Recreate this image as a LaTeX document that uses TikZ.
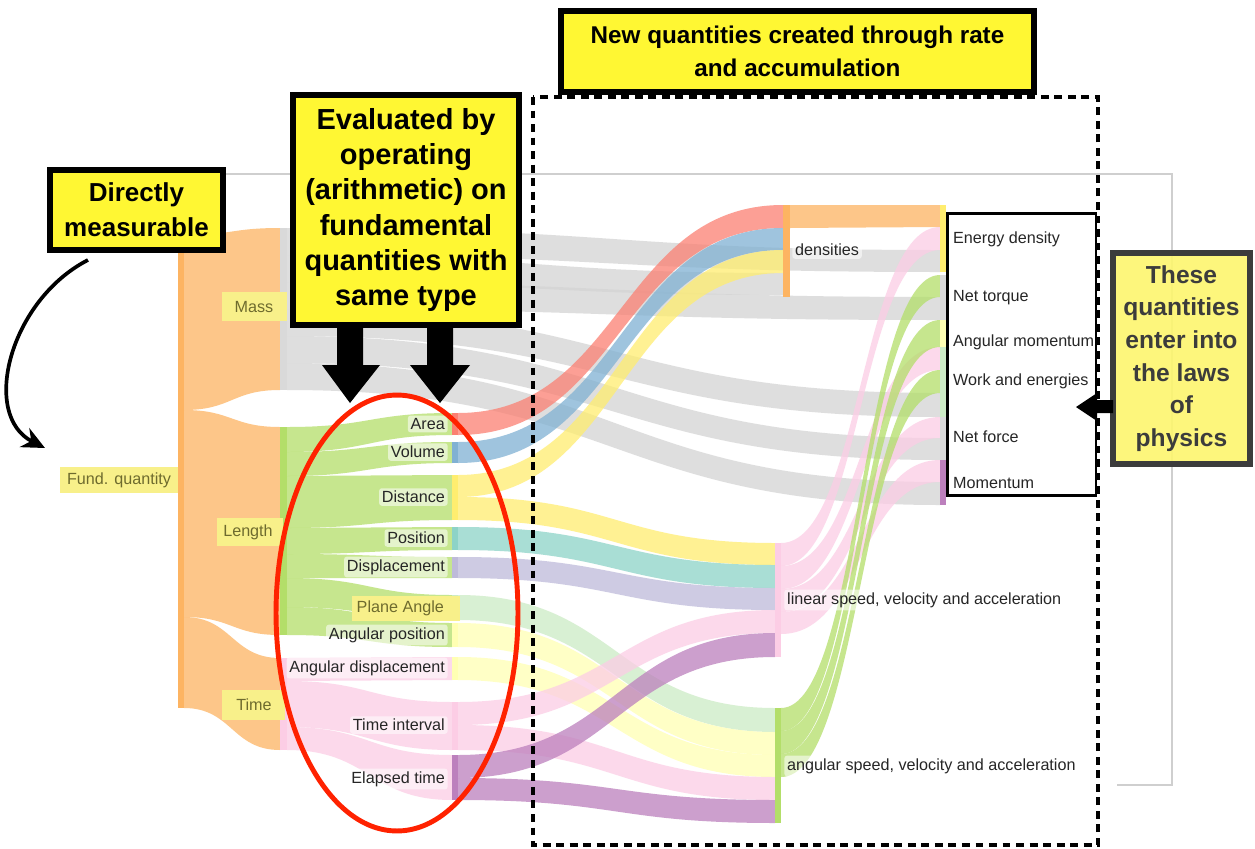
\documentclass[tikz,border=0pt]{standalone}
\usepackage{fontspec}
\setmainfont{Liberation Sans}
\usetikzlibrary{arrows.meta}
\definecolor{cOr}{HTML}{FDB462}
\definecolor{cGr}{HTML}{D4D4D4}
\definecolor{cGrBar}{HTML}{D9D9D9}
\definecolor{cLen}{HTML}{B3DE69}
\definecolor{cPink}{HTML}{FCCDE5}
\definecolor{cRed}{HTML}{FB8072}
\definecolor{cBlu}{HTML}{80B1D3}
\definecolor{cYel}{HTML}{FFED6F}
\definecolor{cTea}{HTML}{8DD3C7}
\definecolor{cLav}{HTML}{BEBADA}
\definecolor{cLgr}{HTML}{CCEBC5}
\definecolor{cLye}{HTML}{FFFFB3}
\definecolor{cPur}{HTML}{BC80BD}
\definecolor{boxY}{HTML}{FFF733}
\definecolor{boxYb}{HTML}{FDF66E}
\definecolor{hiY}{HTML}{F8F08A}
\definecolor{oliveT}{HTML}{6E6B2E}
\definecolor{dgrey}{HTML}{3C3C3C}
\definecolor{frameG}{HTML}{CFCFCF}
\definecolor{ellR}{HTML}{FF2200}
\newcommand{\sankeyrib}[7]{%
  \fill[#1,fill opacity=0.75] (#2,#3) .. controls ({(#2+#5)/2},#3) and ({(#2+#5)/2},#6) .. (#5,#6)
    -- (#5,#7) .. controls ({(#2+#5)/2},#7) and ({(#2+#5)/2},#4) .. (#2,#4) -- cycle;}
\tikzset{
  lab/.style={font=\fontsize{9.2}{10}\selectfont, text=black!85, fill=white, fill opacity=0.55,
    text opacity=1, rounded corners=1.5pt, inner sep=1.6pt},
  llab/.style={lab, anchor=east},
  rlab/.style={lab, anchor=west},
  hitext/.style={font=\fontsize{9.2}{10}\selectfont, text=oliveT, inner sep=1pt},
  ann/.style={draw=black, line width=3.2pt, fill=boxY, align=center, inner sep=0pt,
    font=\bfseries\fontsize{16.5}{20}\selectfont},
  blockarrow/.style={fill=black}
}
\begin{document}
\begin{tikzpicture}[x=0.02cm,y=-0.02cm]
\useasboundingbox (0,0) rectangle (1255,849);
\fill[white] (0,0) rectangle (1255,849);

% light grey frame
\draw[frameG, line width=0.9pt] (225,174) -- (1172,174) -- (1172,785) -- (1117,785);

% ---------- ribbons ----------
\sankeyrib{cOr}{184}{235}{410}{280}{228}{390}
\sankeyrib{cOr}{184}{410}{617}{280}{427}{635}
\sankeyrib{cOr}{184}{617}{708}{280}{658}{750}
\sankeyrib{cGr}{287}{228}{255}{940}{250}{272}
\sankeyrib{cGr}{287}{255}{282}{783}{273}{295}
\sankeyrib{cGr}{287}{282}{309}{940}{297}{320}
\sankeyrib{cGr}{287}{309}{336}{940}{393}{417}
\sankeyrib{cGr}{287}{336}{363}{940}{438}{460}
\sankeyrib{cGr}{287}{363}{390}{940}{482}{505}
\sankeyrib{cLen}{287}{427}{452}{452}{413}{435}
\sankeyrib{cLen}{287}{452}{476}{452}{442}{463}
\sankeyrib{cLen}{287}{476}{528}{452}{475}{520}
\sankeyrib{cLen}{287}{528}{554}{452}{527}{550}
\sankeyrib{cLen}{287}{554}{578}{452}{557}{578}
\sankeyrib{cLen}{287}{578}{607}{452}{595}{620}
\sankeyrib{cLen}{287}{607}{635}{452}{623}{647}
\sankeyrib{cPink}{287}{658}{681}{452}{657}{680}
\sankeyrib{cPink}{287}{681}{727}{452}{702}{750}
\sankeyrib{cPink}{287}{727}{750}{452}{755}{800}
\sankeyrib{cRed}{458}{413}{435}{783}{205}{228}
\sankeyrib{cBlu}{458}{442}{463}{783}{228}{250}
\sankeyrib{cYel}{458}{475}{497}{783}{250}{273}
\sankeyrib{cYel}{458}{497}{520}{775}{543}{565}
\sankeyrib{cTea}{458}{527}{550}{775}{565}{588}
\sankeyrib{cLav}{458}{557}{578}{775}{588}{610}
\sankeyrib{cLgr}{458}{595}{620}{775}{708}{732}
\sankeyrib{cLye}{458}{623}{647}{775}{732}{755}
\sankeyrib{cLye}{458}{657}{680}{775}{755}{777}
\sankeyrib{cPink}{458}{702}{725}{775}{610}{633}
\sankeyrib{cPink}{458}{725}{750}{775}{777}{800}
\sankeyrib{cPur}{458}{755}{778}{775}{633}{657}
\sankeyrib{cPur}{458}{778}{800}{775}{800}{823}
\sankeyrib{cOr}{790}{205}{228}{940}{205}{227}
\sankeyrib{cPink}{781}{543}{566}{940}{227}{250}
\sankeyrib{cPink}{781}{566}{589}{940}{347}{370}
\sankeyrib{cPink}{781}{589}{612}{940}{417}{438}
\sankeyrib{cPink}{781}{612}{634}{940}{460}{482}
\sankeyrib{cLen}{781}{708}{731}{940}{275}{297}
\sankeyrib{cLen}{781}{731}{754}{940}{320}{347}
\sankeyrib{cLen}{781}{754}{777}{940}{370}{393}

% ---------- node bars ----------
\fill[cOr] (178,235) rectangle (184,708);
\fill[cGrBar] (280,228) rectangle (287,390);
\fill[cLen] (280,427) rectangle (287,635);
\fill[cPink] (280,658) rectangle (287,750);
\fill[cRed] (452,413) rectangle (458,435);
\fill[cBlu] (452,442) rectangle (458,463);
\fill[cYel] (452,475) rectangle (458,520);
\fill[cTea] (452,527) rectangle (458,550);
\fill[cLav] (452,557) rectangle (458,578);
\fill[cLgr] (452,595) rectangle (458,620);
\fill[cLye] (452,623) rectangle (458,647);
\fill[cLye] (452,657) rectangle (458,680);
\fill[cPink] (452,702) rectangle (458,750);
\fill[cPur] (452,755) rectangle (458,800);
\fill[cOr] (783,205) rectangle (790,297);
\fill[cPink] (775,543) rectangle (781,657);
\fill[cLen] (775,708) rectangle (781,823);
\fill[cYel] (940,205) rectangle (946,272);
\fill[cGrBar] (940,275) rectangle (946,320);
\fill[cLye] (940,320) rectangle (946,347);
\fill[cLgr] (940,347) rectangle (946,417);
\fill[cGrBar] (940,417) rectangle (946,460);
\fill[cPur] (940,460) rectangle (946,505);

% ---------- labels ----------
\fill[hiY] (60,467) rectangle (178,493);
\node[hitext] (fq) at (119,480) {Fund. quantity};
\fill[hiY] (222,292) rectangle (287,321);
\node[hitext] (mass) at (254,307) {Mass};
\fill[hiY] (217,518) rectangle (283,546);
\node[hitext] (length) at (248,532) {Length};
\fill[hiY] (222,690) rectangle (285,720);
\node[hitext] (time) at (254,705) {Time};

\node[llab] (area) at (448,424) {Area};
\node[llab] (volume) at (448,452) {Volume};
\node[llab] (distance) at (448,497) {Distance};
\node[llab] (position) at (448,538) {Position};
\node[llab] (displ) at (448,567) {Displacement};
\fill[hiY] (352,596) rectangle (460,621);
\node[hitext, anchor=east] (plane) at (446,608) {Plane Angle};
\node[llab] (angpos) at (448,635) {Angular position};
\node[llab] (angdisp) at (448,668) {Angular displacement};
\node[llab] (tint) at (448,725) {Time interval};
\node[llab] (elapsed) at (448,779) {Elapsed time};

\node[rlab] (dens) at (792,250) {densities};
\node[rlab] (linear) at (784,600) {linear speed, velocity and acceleration};
\node[rlab] (angular) at (784,766) {angular speed, velocity and acceleration};

\node[rlab, fill opacity=0] (ed) at (950,239) {Energy density};
\node[rlab, fill opacity=0] (nt) at (950,298) {Net torque};
\node[rlab, fill opacity=0] (am) at (950,342) {Angular momentum};
\node[rlab, fill opacity=0] (we) at (950,381) {Work and energies};
\node[rlab, fill opacity=0] (nf) at (950,437) {Net force};
\node[rlab, fill opacity=0] (mom) at (950,483) {Momentum};

% ---------- annotations ----------
\draw[ellR, line width=2.8pt] (397,613) ellipse [x radius=2.42cm, y radius=4.36cm];

\node[draw=black, line width=1.7pt, minimum width=2.98cm, minimum height=5.66cm, inner sep=0pt] (lawsbox) at (1021.5,354.5) {};

\draw[black, line width=2.8pt, dash pattern=on 4.5pt off 3.2pt] (533,97) rectangle (1098,845);

\node[ann, minimum width=3.46cm, minimum height=1.6cm, font=\bfseries\fontsize{14.8}{20}\selectfont] (dm) at (136.5,210) {Directly\\measurable};
\node[ann, minimum width=4.52cm, minimum height=4.6cm] (ev) at (406,210) {Evaluated by\\operating\\(arithmetic) on\\fundamental\\quantities with\\same type};
\node[ann, minimum width=9.46cm, minimum height=1.62cm, font=\bfseries\fontsize{13.8}{18.7}\selectfont] (nq) at (797.5,51.5) {New quantities created through rate\\and accumulation};
\node[ann, draw=dgrey, fill=boxYb, fill opacity=0.9, text opacity=1, text=dgrey, minimum width=2.74cm, minimum height=4.22cm, font=\bfseries\fontsize{14}{18.6}\selectfont] (tq) at (1181.5,358.5) {These\\quantities\\enter into\\the laws\\of\\physics};

% block arrows
\fill[blockarrow] (337,325) -- (363,325) -- (363,365) -- (380,365) -- (350,403) -- (322,365) -- (337,365) -- cycle;
\fill[blockarrow] (427,325) -- (453,325) -- (453,365) -- (470,365) -- (440,403) -- (410,365) -- (427,365) -- cycle;
\fill[blockarrow] (1113,400) -- (1097,400) -- (1097,393) -- (1076,407) -- (1097,421) -- (1097,413) -- (1113,413) -- cycle;

% curved arrow
\coordinate (cstart) at (88,260);
\coordinate (cend) at (45,448);
\draw[line width=2.1pt, -{Stealth[length=13pt,width=12pt]}] (cstart) .. controls (10,300) and (-20,415) .. (cend);
\end{tikzpicture}
\end{document}
